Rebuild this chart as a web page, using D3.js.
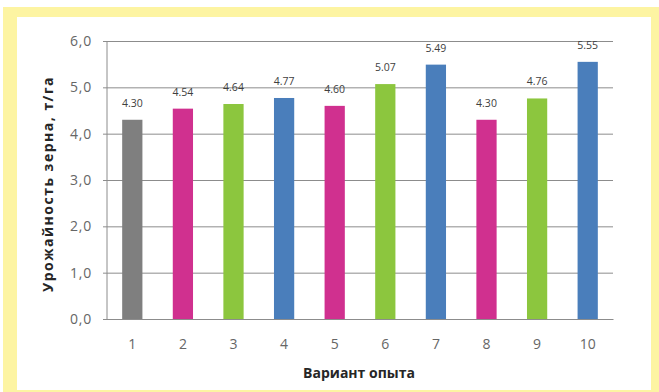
<!DOCTYPE html>
<html>
<head>
<meta charset="utf-8">
<script src="https://cdn.jsdelivr.net/npm/d3@7/dist/d3.min.js"></script>
<style>
  html, body { margin: 0; padding: 0; background: #ffffff; }
  svg { display: block; }
</style>
</head>
<body>
<svg id="chart" width="659" height="392"></svg>
<script>
// Grain yield by experiment variant
const variants = ["1", "2", "3", "4", "5", "6", "7", "8", "9", "10"];
const yields = [4.30, 4.54, 4.64, 4.77, 4.60, 5.07, 5.49, 4.30, 4.76, 5.55];
const barColors = ["#7f7f7f", "#d0308f", "#8cc63e", "#4a7ebb", "#d0308f",
                   "#8cc63e", "#4a7ebb", "#d0308f", "#8cc63e", "#4a7ebb"];
const yTicks = [0, 1, 2, 3, 4, 5, 6];
const yTitle = "Урожайность зерна, т/га";
const xTitle = "Вариант опыта";

const svg = d3.select("#chart");
const W = 659, H = 392;

// Frame
svg.append("rect").attr("x", 3).attr("y", 7).attr("width", W - 3).attr("height", H - 7)
  .attr("fill", "#fdf4a2");
svg.append("rect").attr("x", 17).attr("y", 17).attr("width", 634).attr("height", 373)
  .attr("fill", "#ffffff");

const plot = { left: 107, right: 613, top: 41, bottom: 319 };

const x = d3.scaleBand().domain(variants).range([plot.left, plot.right]).paddingInner(0.6).paddingOuter(0.3);
const y = d3.scaleLinear().domain([0, 6]).range([plot.bottom, plot.top]);

const fmtAxis = v => d3.format(".1f")(v).replace(".", ",");

// Gridlines with ticks
const yAxis = d3.axisLeft(y).tickValues(yTicks).tickSize(-(plot.right - plot.left)).tickFormat(fmtAxis).tickPadding(15);
const gy = svg.append("g").attr("transform", `translate(${plot.left},0)`).call(yAxis);
gy.select(".domain").remove();
gy.selectAll(".tick line").attr("stroke", "#8c8c8c").attr("stroke-width", 1).attr("x1", -4);
gy.selectAll(".tick text").attr("fill", "#666666").attr("font-family", "'Open Sans', sans-serif")
  .attr("font-size", 14).attr("letter-spacing", 0.8);

// Vertical axis line
svg.append("line").attr("x1", plot.left).attr("x2", plot.left).attr("y1", plot.top).attr("y2", plot.bottom)
  .attr("stroke", "#8c8c8c");

// Bars
svg.append("g").selectAll("rect").data(yields).join("rect")
  .attr("x", (d, i) => x(variants[i]))
  .attr("width", x.bandwidth())
  .attr("y", d => y(d))
  .attr("height", d => y(0) - y(d))
  .attr("fill", (d, i) => barColors[i]);

// Value labels
svg.append("g").selectAll("text").data(yields).join("text")
  .attr("x", (d, i) => x(variants[i]) + x.bandwidth() / 2)
  .attr("y", d => y(d) - 13)
  .attr("text-anchor", "middle")
  .attr("font-family", "'Open Sans', sans-serif")
  .attr("font-size", 10.5)
  .attr("fill", "#404040")
  .text(d => d.toFixed(2));

// X axis
const xAxis = d3.axisBottom(x).tickSize(0).tickPadding(20);
const gx = svg.append("g").attr("transform", `translate(0,${plot.bottom})`).call(xAxis);
gx.select(".domain").attr("stroke", "#8c8c8c");
gx.selectAll(".tick text").attr("fill", "#666666").attr("font-family", "'Open Sans', sans-serif").attr("font-size", 14);

// Axis titles
svg.append("text").attr("x", 359).attr("y", 378)
  .attr("text-anchor", "middle").attr("font-family", "'Open Sans', sans-serif")
  .attr("font-size", 14).attr("font-weight", "bold").attr("fill", "#262626").text(xTitle);
svg.append("text").attr("transform", "translate(53,184) rotate(-90)")
  .attr("text-anchor", "middle").attr("font-family", "'Open Sans', sans-serif")
  .attr("font-size", 14).attr("font-weight", "bold").attr("letter-spacing", 1.5)
  .attr("fill", "#262626").text(yTitle);
</script>
</body>
</html>
